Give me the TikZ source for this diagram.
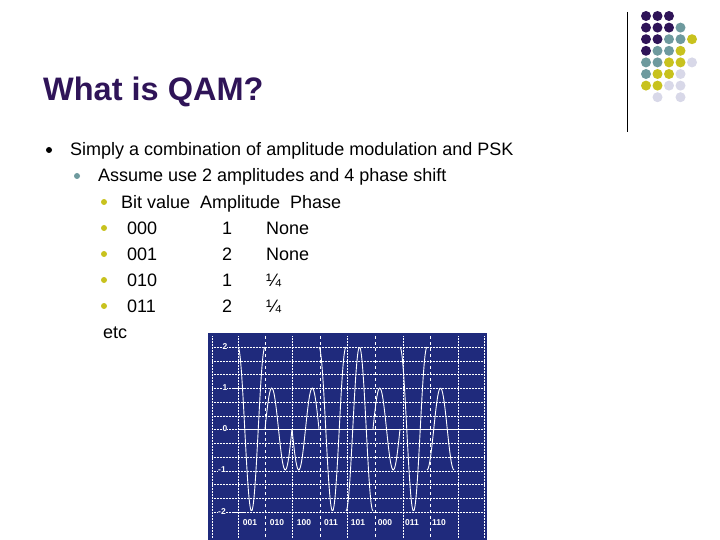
\documentclass[tikz,border=0pt]{standalone}
\usepackage{fontspec}
\setmainfont{Liberation Sans}
\begin{document}
\begin{tikzpicture}[x=1pt,y=-1pt,
  txt/.style={anchor=base west,inner sep=0pt,font=\fontsize{18}{20}\selectfont},
  bul/.style={circle,inner sep=0pt,minimum size=6pt},
  dotc/.style={circle,inner sep=0pt,minimum size=10pt},
  lbl/.style={text=white,font=\fontsize{8.5}{9}\selectfont\bfseries,inner sep=0pt}]
\definecolor{pp}{HTML}{2F1458}\definecolor{tl}{HTML}{6E9A9E}
\definecolor{yl}{HTML}{C8C21E}\definecolor{lt}{HTML}{D8D8E8}
\definecolor{bg}{HTML}{1F2A7C}
\useasboundingbox (0,0) rectangle (720,540);
\fill[white] (0,0) rectangle (720,540);
% logo
\draw[black,line width=1pt] (627,12) -- (627,132);
\foreach \r/\cols in {0/{0/pp,1/pp,2/pp},1/{0/pp,1/pp,2/pp,3/tl},2/{0/pp,1/pp,2/tl,3/tl,4/yl},
  3/{0/pp,1/tl,2/tl,3/yl},4/{0/tl,1/tl,2/yl,3/yl,4/lt},5/{0/tl,1/yl,2/yl,3/lt},6/{0/yl,1/yl,2/lt,3/lt},7/{1/lt,3/lt}}
  \foreach \c/\col in \cols \node[dotc,fill=\col] (d\r\c) at (646+11.5*\c,16+11.6*\r) {};
% title
\node[anchor=base west,inner sep=0pt,text=pp,font=\fontsize{32.5}{40}\selectfont\bfseries] (title) at (43,101) {What is QAM?};
% bullets
\node[bul,fill=black] (b1) at (49,150) {};
\node[txt] (t1) at (70,156) {Simply a combination of amplitude modulation and PSK};
\node[bul,fill=tl] (b2) at (77,176) {};
\node[txt] (t2) at (98,182) {Assume use 2 amplitudes and 4 phase shift};
\node[bul,fill=yl] (b30) at (104,202) {};
\node[txt] (ta0) at (121,208) {Bit value};
\node[txt] (tb0) at (200,208) {Amplitude};
\node[txt] (tc0) at (290,208) {Phase};
\foreach \i/\a/\b/\c in {1/000/1/None,2/001/2/None,3/010/1/¼,4/011/2/¼}{
  \node[bul,fill=yl] (b3\i) at (104,202+26*\i) {};
  \node[txt] (ta\i) at (127,208+26*\i) {\a};
  \node[txt] (tb\i) at (222,208+26*\i) {\b};
  \node[txt] (tc\i) at (266,208+26*\i) {\c};}
\node[txt] (etc) at (103,338) {etc};
% graph
\fill[bg] (208,333) rectangle (487,540);
\foreach \j in {0,...,12}
  \draw[white,densely dotted,line width=0.5pt] (212,347+13.75*\j) -- (485,347+13.75*\j);
\foreach \xx in {212,238,292,347,403,458,484}
  \draw[white,densely dotted,line width=0.5pt] (\xx,336) -- (\xx,538);
\foreach \xx in {265,320,375,430}
  \draw[white,dashed,line width=0.6pt] (\xx,336) -- (\xx,538);
\draw[white,line width=0.9pt] (238,429) -- (472,429);
\draw[white,line width=0.7pt] (232,388) -- (245,388);
\draw[white,line width=0.7pt] (232,512) -- (245,512);
\node[lbl,fill=bg] (l2) at (225,347) {2};
\node[lbl,fill=bg] (l1) at (225,388) {1};
\node[lbl,fill=bg] (l0) at (225,429) {0};
\node[lbl,fill=bg] (lm1) at (222,470) {-1};
\node[lbl,fill=bg] (lm2) at (222,512) {-2};
\foreach \t [count=\k from 0] in {001,010,100,011,101,000,011,110}
  \node[lbl,fill=bg] (s\k) at (250+27*\k,523) {\t};
\foreach \k/\a/\p in {0/2/90,1/1/0,2/1/180,3/2/90,4/2/270,5/1/0,6/2/90,7/1/270}
  \draw[white,line width=0.9pt,domain=0:27,samples=30,smooth]
    plot ({238+27*\k+\x},{429-41*\a*sin(360*\x/27+\p)});
\end{tikzpicture}
\end{document}
